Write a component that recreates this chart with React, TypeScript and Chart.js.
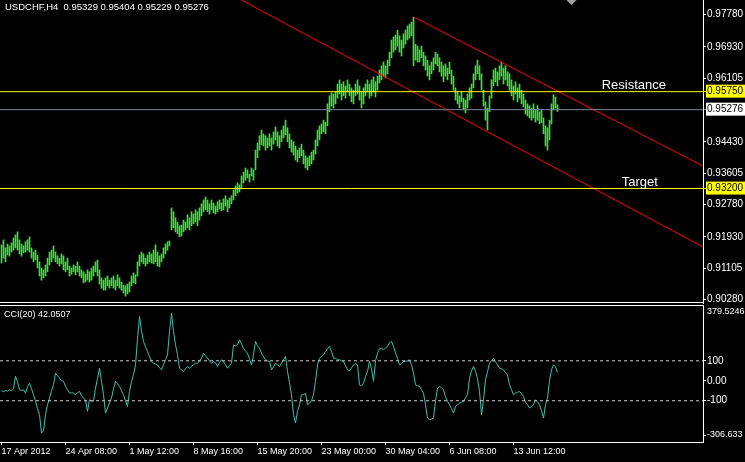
import React, { useEffect, useRef } from "react";
import { Chart, registerables } from "chart.js";

Chart.register(...registerables);

// ---------- DATA ----------
const SYMBOL_TITLE = "USDCHF,H4";
const LAST_OHLC = [0.95329, 0.95404, 0.95229, 0.95276];

const HIGHS = [
  0.9172, 0.9185, 0.9164, 0.9174, 0.9169, 0.9177, 0.919, 0.9198, 0.9206, 0.9185,
  0.9174, 0.9169, 0.918, 0.9185, 0.9193, 0.9164, 0.9153, 0.9158, 0.9145, 0.9127,
  0.9111, 0.9106, 0.9119, 0.9137, 0.9153, 0.9158, 0.9169, 0.9153, 0.9143, 0.9137,
  0.9148, 0.9143, 0.9127, 0.9137, 0.9116, 0.9111, 0.9119, 0.9116, 0.9127, 0.9116,
  0.9106, 0.9101, 0.9095, 0.9106, 0.9101, 0.9111, 0.9116, 0.9127, 0.9132, 0.9106,
  0.9085, 0.9079, 0.9085, 0.909, 0.9079, 0.9085, 0.909, 0.9079, 0.9093, 0.9085,
  0.9074, 0.9066, 0.9064, 0.9069, 0.9074, 0.909, 0.9098, 0.9093, 0.9127, 0.9145,
  0.9153, 0.9148, 0.9137, 0.9145, 0.9153, 0.9148, 0.9158, 0.9172, 0.9153, 0.9143,
  0.9148, 0.9164, 0.9174, 0.918, 0.9182, 0.9269, 0.9259, 0.9243, 0.9232, 0.9222,
  0.9224, 0.9237, 0.9232, 0.9251, 0.9243, 0.9259, 0.9253, 0.9264, 0.9259, 0.9269,
  0.928, 0.929, 0.9298, 0.929, 0.928, 0.929, 0.9282, 0.9274, 0.9285, 0.929,
  0.9282, 0.9293, 0.9301, 0.929, 0.9295, 0.9301, 0.9316, 0.9327, 0.9335, 0.933,
  0.9353, 0.9363, 0.9374, 0.9369, 0.9358, 0.9374, 0.9369, 0.9421, 0.944, 0.9459,
  0.9474, 0.9464, 0.9459, 0.9453, 0.9464, 0.9453, 0.9469, 0.9482, 0.9469, 0.9459,
  0.9474, 0.9485, 0.95, 0.948, 0.9464, 0.9448, 0.9443, 0.9432, 0.9421, 0.9427,
  0.9437, 0.9421, 0.9406, 0.9401, 0.9406, 0.9416, 0.9421, 0.9448, 0.9474, 0.9485,
  0.949, 0.95, 0.9495, 0.9543, 0.9564, 0.9572, 0.9569, 0.9574, 0.9595, 0.9606,
  0.9595, 0.9601, 0.959, 0.9606, 0.9595, 0.9585, 0.9579, 0.9595, 0.9606, 0.959,
  0.9574, 0.9585, 0.9595, 0.9606, 0.9595, 0.9606, 0.9614, 0.9601, 0.9616, 0.9632,
  0.9643, 0.9653, 0.9643, 0.9658, 0.9679, 0.9711, 0.9719, 0.9724, 0.9737, 0.9722,
  0.9711, 0.9727, 0.9737, 0.9748, 0.9753, 0.9758, 0.9771, 0.97, 0.9695, 0.9685,
  0.9695, 0.9679, 0.9669, 0.9658, 0.9643, 0.9653, 0.9664, 0.9679, 0.9674, 0.9664,
  0.9653, 0.9643, 0.9648, 0.9637, 0.9653, 0.9632, 0.9616, 0.9585, 0.9574, 0.9564,
  0.9574, 0.9558, 0.9553, 0.9569, 0.9585, 0.9595, 0.9622, 0.9643, 0.9658, 0.9643,
  0.9622, 0.9579, 0.9548, 0.9532, 0.9564, 0.9606, 0.9632, 0.9637, 0.9627, 0.9643,
  0.9653, 0.9637, 0.9643, 0.9627, 0.9622, 0.9606, 0.959, 0.9601, 0.9585, 0.9595,
  0.9579, 0.9569, 0.9553, 0.9543, 0.9538, 0.9532, 0.9543, 0.9527, 0.9538, 0.9522,
  0.9527, 0.9506, 0.9485, 0.948, 0.95, 0.9543, 0.9567, 0.9561, 0.95404,
];

const LOWS = [
  0.9124, 0.9137, 0.9127, 0.9145, 0.9142, 0.9153, 0.9158, 0.9164, 0.9158, 0.9148,
  0.9142, 0.9151, 0.9153, 0.9158, 0.9153, 0.9137, 0.9127, 0.9132, 0.9111, 0.909,
  0.9079, 0.9085, 0.909, 0.9101, 0.9119, 0.9127, 0.9137, 0.9127, 0.9122, 0.9116,
  0.9122, 0.9106, 0.9101, 0.9106, 0.909, 0.9095, 0.9101, 0.9093, 0.9101, 0.909,
  0.9085, 0.9072, 0.9074, 0.9079, 0.9074, 0.9079, 0.909, 0.9101, 0.909, 0.9069,
  0.9058, 0.9053, 0.9053, 0.9064, 0.9058, 0.9064, 0.9058, 0.9053, 0.9064, 0.9058,
  0.9053, 0.9045, 0.9037, 0.9043, 0.9048, 0.9064, 0.9072, 0.9069, 0.909, 0.9116,
  0.9127, 0.9122, 0.9116, 0.9122, 0.9127, 0.9124, 0.9122, 0.9127, 0.9116, 0.9114,
  0.9127, 0.9137, 0.9148, 0.9158, 0.9169, 0.9211, 0.9217, 0.9206, 0.9201, 0.9193,
  0.9195, 0.9206, 0.9211, 0.9217, 0.9211, 0.9222, 0.9227, 0.9232, 0.9222, 0.9237,
  0.9248, 0.9259, 0.9264, 0.9259, 0.9253, 0.9264, 0.9256, 0.9253, 0.9259, 0.9266,
  0.9261, 0.9264, 0.9274, 0.9259, 0.9269, 0.928, 0.929, 0.9301, 0.9308, 0.9311,
  0.9322, 0.9335, 0.9342, 0.9348, 0.9337, 0.9353, 0.9342, 0.9369, 0.9401, 0.9421,
  0.9435, 0.9432, 0.9421, 0.9427, 0.9432, 0.9421, 0.9437, 0.9448, 0.9432, 0.9427,
  0.9443, 0.9453, 0.9461, 0.9443, 0.9427, 0.9416, 0.9408, 0.9395, 0.939, 0.9401,
  0.9406, 0.9385, 0.9374, 0.9369, 0.938, 0.9385, 0.9395, 0.9411, 0.9432, 0.9448,
  0.9464, 0.9469, 0.9464, 0.9485, 0.9522, 0.9537, 0.9532, 0.9543, 0.9558, 0.9569,
  0.9553, 0.9564, 0.9558, 0.9574, 0.9564, 0.9548, 0.9543, 0.9564, 0.9569, 0.9553,
  0.9532, 0.9543, 0.9564, 0.9574, 0.9558, 0.9564, 0.9574, 0.9561, 0.9579, 0.9598,
  0.9606, 0.9616, 0.9611, 0.9622, 0.9643, 0.9664, 0.9679, 0.9685, 0.9695, 0.9679,
  0.9669, 0.969, 0.97, 0.9711, 0.9716, 0.9722, 0.9643, 0.9658, 0.9653, 0.9653,
  0.9664, 0.9643, 0.9632, 0.9616, 0.9606, 0.9622, 0.9632, 0.9648, 0.9643, 0.9627,
  0.9616, 0.9601, 0.9616, 0.9606, 0.9622, 0.9595, 0.9579, 0.9553, 0.9543, 0.9532,
  0.9548, 0.9527, 0.9519, 0.9532, 0.9553, 0.9558, 0.9585, 0.9606, 0.9622, 0.9606,
  0.9579, 0.9537, 0.95, 0.9474, 0.9522, 0.9558, 0.959, 0.9601, 0.959, 0.9606,
  0.9616, 0.9595, 0.9606, 0.959, 0.9579, 0.9564, 0.9553, 0.9569, 0.9548, 0.9558,
  0.9543, 0.9535, 0.9516, 0.9511, 0.9506, 0.95, 0.9506, 0.9495, 0.95, 0.949,
  0.9493, 0.9464, 0.9432, 0.9421, 0.9448, 0.949, 0.9527, 0.9532, 0.95229,
];

const CCI = [
  -50, -55, -48, -52, -44, -50, -40, 22, -5, -45,
  -48, -45, -62, -30, -12, -40, -70, -103, -140, -170,
  -262, -250, -170, -120, -87, -50, -20, 38, 25, 13,
  0, -3, -28, -45, -62, -60, -62, -70, -60, -53,
  -75, -87, -95, -153, -95, -100, -103, -37, 10, 63,
  -3, -70, -162, -137, -110, -87, -40, -3, -15, -28,
  -50, -70, -100, -128, -53, -3, 30, 80, 213, 322,
  250, 197, 170, 147, 120, 97, 88, 85, 80, 65,
  55, 80, 105, 130, 247, 338, 247, 180, 130, 63,
  55, 47, 60, 72, 63, 72, 80, 88, 88, 100,
  113, 138, 125, 113, 100, 88, 97, 90, 72, 90,
  105, 97, 80, 63, 75, 88, 180, 175, 180, 205,
  185, 163, 150, 138, 110, 80, 130, 197, 175, 163,
  138, 120, 105, 100, 97, 55, 70, 88, 80, 72,
  88, 105, 122, 47, -10, -70, -170, -212, -153, -120,
  -70, -70, -62, -120, -112, -100, -70, -3, 80, 113,
  122, 130, 147, 160, 172, 147, 113, 113, 105, 105,
  100, 97, 75, 55, 50, 65, 80, 85, 80, -20,
  -25, -12, 20, 47, 97, 60, -3, 100, 138, 160,
  163, 155, 165, 172, 190, 197, 172, 140, 113, 80,
  85, 97, 97, 100, 105, 80, 38, -20, -25, -28,
  -45, -62, -120, -187, -195, -192, -187, -100, -37, -28,
  -35, -45, -80, -103, -120, -140, -162, -128, -120, -112,
  -108, -103, -85, -70, 13, 50, 72, 47, 10, -53,
  -170, -95, 5, 45, 88, 100, 113, 95, 80, 63,
  60, 55, 40, 30, -20, -45, -70, -62, -58, -53,
  -65, -78, -110, -120, -137, -130, -120, -95, -105, -120,
  -150, -187, -120, -87, 0, 55, 80, 70, 42.0507,
];

const PRICE_TICKS = [0.9778, 0.9693, 0.96105, 0.9443, 0.93605, 0.9278, 0.9193, 0.91105, 0.9028];
const RESISTANCE = 0.9575;
const TARGET = 0.932;
const BID = 0.95276;
const CHANNEL_UPPER = [
  { x: 206, y: 0.97715 },
  { x: 351, y: 0.93785 },
];
const CHANNEL_LOWER = [
  { x: 118, y: 0.98215 },
  { x: 351, y: 0.91655 },
];
const TEXT_LABELS = [
  { text: "Resistance", x: 300.1, y: RESISTANCE },
  { text: "Target", x: 310.1, y: TARGET },
];
const TIME_TICK_INDEX = [0, 32, 64, 96, 128, 160, 192, 224, 256];
const TIME_TICK_LABELS = [
  "17 Apr 2012",
  "24 Apr 08:00",
  "1 May 12:00",
  "8 May 16:00",
  "15 May 20:00",
  "23 May 00:00",
  "30 May 04:00",
  "6 Jun 08:00",
  "13 Jun 12:00",
];
const CCI_PERIOD = 20;
const CCI_LEVELS = [100, -100];
const CCI_TICKS = [100, 0, -100];
const CCI_MAX = 379.5246;
const CCI_MIN = -306.633;
const PRICE_MAX = 0.98162;
const PRICE_MIN = 0.901884;
const X_MIN = -0.75;
const X_MAX = 350.75;
const SHIFT_MARK_X = 285;

// ---------- STYLE ----------
const FONT = "'Liberation Sans', Arial, sans-serif";
const BAR_COLOR = "#3fe03a";
const AXIS_W = 42;

const isMarked = (v: number) => v === RESISTANCE || v === TARGET || v === BID;

const mainOverlay = {
  id: "mainOverlay",
  afterDatasetsDraw(chart: any) {
    const { ctx, chartArea, scales } = chart;
    const x = scales.x;
    const y = scales.y;
    ctx.save();
    ctx.fillStyle = "#ffffff";
    ctx.font = `13px ${FONT}`;
    ctx.textBaseline = "alphabetic";
    ctx.textAlign = "left";
    for (const t of TEXT_LABELS) {
      ctx.fillText(t.text, x.getPixelForValue(t.x), y.getPixelForValue(t.y) - 3);
    }
    ctx.font = `9.5px ${FONT}`;
    ctx.textBaseline = "middle";
    ctx.fillText(
      `${SYMBOL_TITLE}  ${LAST_OHLC.map((v) => v.toFixed(5)).join(" ")}`,
      5,
      7
    );
    const sx = x.getPixelForValue(SHIFT_MARK_X);
    ctx.fillStyle = "#a0a0a0";
    ctx.beginPath();
    ctx.moveTo(sx - 5, 0);
    ctx.lineTo(sx + 5, 0);
    ctx.lineTo(sx, 5);
    ctx.closePath();
    ctx.fill();
    ctx.strokeStyle = "#ffffff";
    ctx.lineWidth = 1;
    ctx.beginPath();
    ctx.moveTo(0, chartArea.bottom - 0.5);
    ctx.lineTo(chartArea.right + 1, chartArea.bottom - 0.5);
    ctx.stroke();
    ctx.restore();
  },
};

const cciOverlay = {
  id: "cciOverlay",
  afterDatasetsDraw(chart: any) {
    const { ctx, chartArea } = chart;
    ctx.save();
    ctx.fillStyle = "#ffffff";
    ctx.font = `9px ${FONT}`;
    ctx.textBaseline = "middle";
    ctx.textAlign = "left";
    ctx.fillText(`CCI(${CCI_PERIOD}) ${CCI[CCI.length - 1]}`, 4, chartArea.top + 10);
    ctx.fillText(String(CCI_MAX), chartArea.right + 4, chartArea.top + 7);
    ctx.fillText(String(CCI_MIN), chartArea.right + 4, chartArea.bottom - 7);
    ctx.strokeStyle = "#ffffff";
    ctx.lineWidth = 1;
    ctx.beginPath();
    ctx.moveTo(0, chartArea.top + 0.5);
    ctx.lineTo(chartArea.right + 1, chartArea.top + 0.5);
    ctx.moveTo(chartArea.right, chartArea.bottom - 6.5);
    ctx.lineTo(chartArea.right + 3, chartArea.bottom - 6.5);
    ctx.stroke();
    ctx.restore();
  },
};

const fitY = (s: any) => {
  s.width = AXIS_W;
  s.paddingTop = 0;
  s.paddingBottom = 0;
};

function MainChart() {
  const ref = useRef<HTMLCanvasElement>(null);
  useEffect(() => {
    const lineDs = (label: string, data: any[], color: string) => ({
      type: "line" as const,
      label,
      data,
      borderColor: color,
      borderWidth: 1,
      pointRadius: 0,
      fill: false,
      order: 0,
    });
    const chart = new Chart(ref.current!, {
      type: "bar",
      data: {
        datasets: [
          lineDs("Resistance", [{ x: X_MIN, y: RESISTANCE }, { x: X_MAX, y: RESISTANCE }], "#ffff00"),
          lineDs("Target", [{ x: X_MIN, y: TARGET }, { x: X_MAX, y: TARGET }], "#ffff00"),
          lineDs("Bid", [{ x: X_MIN, y: BID }, { x: X_MAX, y: BID }], "#778899"),
          lineDs("Channel upper", CHANNEL_UPPER, "#ff0000"),
          lineDs("Channel lower", CHANNEL_LOWER, "#ff0000"),
          {
            type: "bar",
            label: "USDCHF H4",
            data: HIGHS.map((h, i) => ({ x: i, y: [LOWS[i], h] })) as any,
            backgroundColor: BAR_COLOR,
            borderWidth: 0,
            barThickness: 1,
            grouped: false,
            order: 10,
          } as any,
        ],
      },
      options: {
        animation: false,
        responsive: false,
        events: [],
        layout: { padding: { left: 0, right: 0, top: 0, bottom: 1 } },
        plugins: { legend: { display: false }, tooltip: { enabled: false } },
        scales: {
          x: { type: "linear", min: X_MIN, max: X_MAX, display: false, offset: false },
          y: {
            type: "linear",
            position: "right",
            min: PRICE_MIN,
            max: PRICE_MAX,
            afterFit: fitY,
            afterBuildTicks: (s: any) => {
              s.ticks = [...PRICE_TICKS, RESISTANCE, TARGET, BID]
                .sort((a, b) => a - b)
                .map((v) => ({ value: v }));
            },
            ticks: {
              autoSkip: false,
              padding: 1,
              font: { family: FONT, size: 10 },
              color: (c: any) => (isMarked(c.tick?.value) ? "#000000" : "#ffffff"),
              callback: (v: any) => Number(v).toFixed(5),
              showLabelBackdrop: (c: any) => isMarked(c.tick?.value),
              backdropColor: (c: any) => (c.tick?.value === BID ? "#ffffff" : "#ffff00"),
              backdropPadding: { left: 1, right: 4, top: 1, bottom: 0 },
            } as any,
            grid: {
              drawOnChartArea: false,
              drawTicks: true,
              tickLength: 3,
              tickColor: (c: any) =>
                c.tick?.value === BID ? "#778899" : isMarked(c.tick?.value) ? "#ffff00" : "#ffffff",
            } as any,
            border: { display: true, color: "#ffffff", width: 1 },
          },
        },
      },
      plugins: [mainOverlay],
    });
    return () => chart.destroy();
  }, []);
  return <canvas ref={ref} width={745} height={304} style={{ display: "block" }} />;
}

function CciChart() {
  const ref = useRef<HTMLCanvasElement>(null);
  useEffect(() => {
    const chart = new Chart(ref.current!, {
      type: "line",
      data: {
        datasets: [
          ...CCI_LEVELS.map((lv) => ({
            label: `Level ${lv}`,
            data: [{ x: X_MIN, y: lv }, { x: X_MAX, y: lv }],
            borderColor: "#d0d0d0",
            borderWidth: 1,
            borderDash: [3, 3],
            pointRadius: 0,
          })),
          {
            label: `CCI(${CCI_PERIOD})`,
            data: CCI.map((v, i) => ({ x: i, y: v })),
            borderColor: "#3cc2b0",
            borderWidth: 1,
            pointRadius: 0,
            tension: 0,
          },
        ],
      },
      options: {
        animation: false,
        responsive: false,
        events: [],
        layout: { padding: { left: 0, right: 0, top: 1, bottom: 0 } },
        plugins: { legend: { display: false }, tooltip: { enabled: false } },
        scales: {
          x: {
            type: "linear",
            min: X_MIN,
            max: X_MAX,
            offset: false,
            afterFit: (s: any) => {
              s.height = 20;
              s.paddingLeft = 0;
              s.paddingRight = 0;
            },
            afterBuildTicks: (s: any) => {
              s.ticks = TIME_TICK_INDEX.map((v) => ({ value: v }));
            },
            ticks: {
              autoSkip: false,
              maxRotation: 0,
              align: "start",
              padding: 1,
              color: "#ffffff",
              font: { family: FONT, size: 9 },
              callback: (v: any) => TIME_TICK_LABELS[TIME_TICK_INDEX.indexOf(Number(v))] ?? "",
            },
            grid: { drawOnChartArea: false, drawTicks: true, tickLength: 3, tickColor: "#ffffff" },
            border: { display: true, color: "#ffffff", width: 1 },
          },
          y: {
            type: "linear",
            position: "right",
            min: CCI_MIN,
            max: CCI_MAX,
            afterFit: fitY,
            afterBuildTicks: (s: any) => {
              s.ticks = [...CCI_TICKS].sort((a, b) => a - b).map((v) => ({ value: v }));
            },
            ticks: {
              autoSkip: false,
              padding: 1,
              color: "#ffffff",
              font: { family: FONT, size: 10 },
              callback: (v: any) => (Number(v) === 0 ? "0.00" : String(v)),
            },
            grid: { drawOnChartArea: false, drawTicks: true, tickLength: 3, tickColor: "#ffffff" },
            border: { display: true, color: "#ffffff", width: 1 },
          },
        },
      },
      plugins: [cciOverlay],
    });
    return () => chart.destroy();
  }, []);
  return <canvas ref={ref} width={745} height={158} style={{ display: "block" }} />;
}

export default function App() {
  useEffect(() => {
    document.body.style.margin = "0";
    document.body.style.background = "#000";
  }, []);
  return (
    <div style={{ width: 745, height: 462, background: "#000", overflow: "hidden" }}>
      <MainChart />
      <CciChart />
    </div>
  );
}
